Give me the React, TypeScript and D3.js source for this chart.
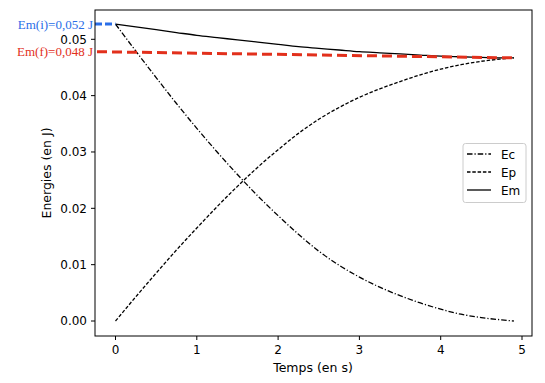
import React from "react";
import * as d3 from "d3";

const times = [0, 0.25, 0.5, 0.75, 1.0, 1.25, 1.5, 1.75, 2.0, 2.25, 2.5, 2.75, 3.0, 3.25, 3.5, 3.75, 4.0, 4.25, 4.5, 4.75, 4.9];
const ecValues = [0.0527, 0.0479, 0.0432, 0.0386, 0.0342, 0.03, 0.026, 0.0222, 0.0187, 0.0154, 0.0124, 0.0099, 0.0078, 0.006, 0.0045, 0.0032, 0.0021, 0.0012, 0.0006, 0.0002, 0.0];
const epValues = [0, 0.0043, 0.0085, 0.0126, 0.0165, 0.0203, 0.0239, 0.0273, 0.0304, 0.0333, 0.0358, 0.0379, 0.0397, 0.0412, 0.0425, 0.0437, 0.0447, 0.0455, 0.0461, 0.0465, 0.0467];
const emValues = [0.0527, 0.0522, 0.0517, 0.0512, 0.0507, 0.0503, 0.0499, 0.0495, 0.0491, 0.0487, 0.0484, 0.0481, 0.0478, 0.0476, 0.0474, 0.0472, 0.047, 0.0469, 0.0468, 0.0467, 0.0467];
const xTicks = [0, 1, 2, 3, 4, 5];
const yTicks = [0, 0.01, 0.02, 0.03, 0.04, 0.05];
const emInitial = 0.0527;
const emFinalStart = 0.0478;
const emFinalEnd = 0.0467;
const labelInitial = "Em(i)=0,052 J";
const labelFinal = "Em(f)=0,048 J";
const seriesNames = ["Ec", "Ep", "Em"];

const W = 545, H = 383;
const plot = { left: 95, right: 532, top: 10, bottom: 336 };

export default function App() {
  const x = d3.scaleLinear().domain([0, 5]).range([115.5, 522]);
  const y = d3.scaleLinear().domain([0, 0.05]).range([321, 39.3]);
  const line = (vals: number[]) =>
    d3.line<number>().x((_, i) => x(times[i])).y((v) => y(v)).curve(d3.curveMonotoneX)(vals) || "";
  const font = "DejaVu Sans, sans-serif";
  const styles = [
    { dash: "5.5,2,1.2,2", vals: ecValues },
    { dash: "3.5,1.8", vals: epValues },
    { dash: "", vals: emValues },
  ];
  const xLeft = x.invert(plot.left + 2);
  const tEnd = times[times.length - 1];
  return (
    <svg width={W} height={H} style={{ position: "absolute", left: 0, top: 0, background: "#fff" }}>
      <rect x={0} y={0} width={W} height={H} fill="#fff" />
      {styles.map((s, i) => (
        <path key={i} d={line(s.vals)} fill="none" stroke="#000" strokeWidth={1.3} strokeDasharray={s.dash || undefined} />
      ))}
      <line x1={plot.left} x2={x(0)} y1={y(emInitial)} y2={y(emInitial)} stroke="#2a6ee8" strokeWidth={3} strokeDasharray="7,3" />
      <line x1={x(xLeft)} x2={x(tEnd)} y1={y(emFinalStart)} y2={y(emFinalEnd)} stroke="#e2301c" strokeWidth={3} strokeDasharray="10,5" />
      <rect x={plot.left} y={plot.top} width={plot.right - plot.left} height={plot.bottom - plot.top} fill="none" stroke="#000" strokeWidth={1} />
      {xTicks.map((t) => (
        <g key={t}>
          <line x1={x(t)} x2={x(t)} y1={plot.bottom} y2={plot.bottom + 4} stroke="#000" />
          <text x={x(t)} y={354} textAnchor="middle" fontFamily={font} fontSize={12}>{t}</text>
        </g>
      ))}
      {yTicks.map((t) => (
        <g key={t}>
          <line x1={plot.left - 4} x2={plot.left} y1={y(t)} y2={y(t)} stroke="#000" />
          <text x={87} y={y(t) + 4.3} textAnchor="end" fontFamily={font} fontSize={12}>{d3.format(".2f")(t)}</text>
        </g>
      ))}
      <text x={313} y={372} textAnchor="middle" fontFamily={font} fontSize={12.5}>Temps (en s)</text>
      <text transform={`translate(51,${(plot.top + plot.bottom) / 2}) rotate(-90)`} textAnchor="middle" fontFamily={font} fontSize={12.5}>Energies (en J)</text>
      <text x={93} y={y(emInitial) + 4.5} textAnchor="end" fontFamily="Liberation Serif, serif" fontSize={13} fill="#2a6ee8">{labelInitial}</text>
      <text x={93} y={y(emFinalStart) + 4.5} textAnchor="end" fontFamily="Liberation Serif, serif" fontSize={13} fill="#e2301c">{labelFinal}</text>
      <rect x={463} y={143.5} width={63} height={59} rx={2.5} fill="#fff" fillOpacity={0.8} stroke="#ccc" strokeWidth={1} />
      {seriesNames.map((n, i) => (
        <g key={n}>
          <line x1={467} x2={491} y1={154 + i * 18} y2={154 + i * 18} stroke="#000" strokeWidth={1.3} strokeDasharray={styles[i].dash || undefined} />
          <text x={501} y={158.5 + i * 18} fontFamily={font} fontSize={12}>{n}</text>
        </g>
      ))}
    </svg>
  );
}
